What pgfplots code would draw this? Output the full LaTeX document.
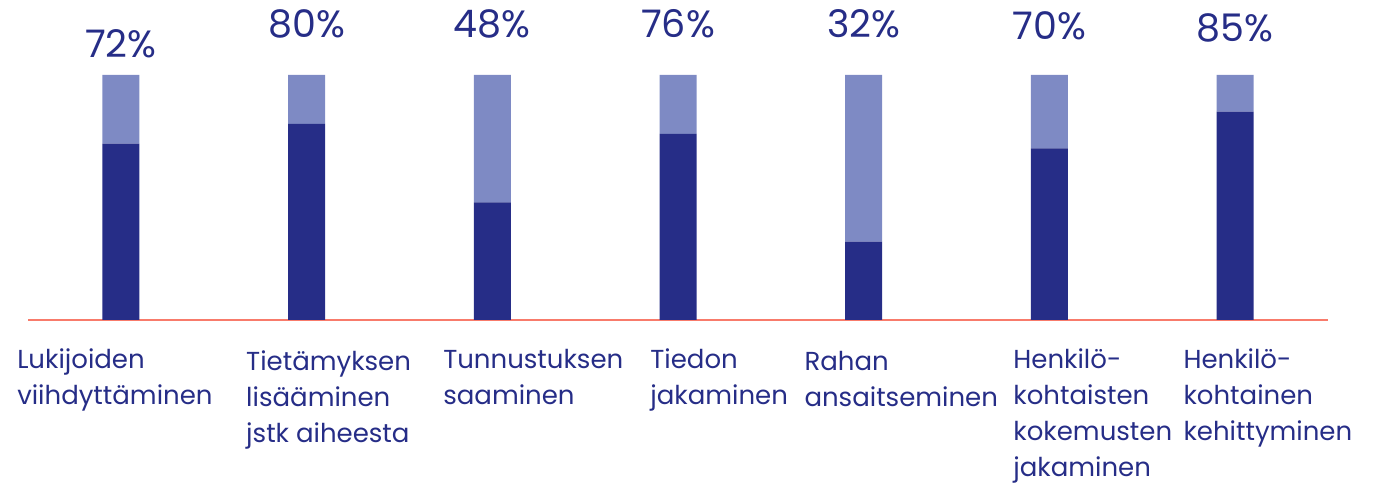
\documentclass[border=0pt]{standalone}
\usepackage{fontspec}
\setmainfont{Poppins}
\usepackage{pgfplots}
\pgfplotsset{compat=1.18}

\definecolor{darkbar}{HTML}{262D87}
\definecolor{lightbar}{HTML}{7E8AC4}
\definecolor{coral}{HTML}{F87B6B}

\newcommand{\catfont}{\fontsize{13}{18}\selectfont}
\newcommand{\pctfont}{\fontsize{19}{22}\selectfont}
\newcommand{\lines}[1]{\begin{tabular}[t]{@{}l@{}}#1\end{tabular}}

\begin{document}
\begin{tikzpicture}
\begin{axis}[
    scale only axis,
    width=650pt, height=122.5pt,
    xmin=-0.5, xmax=6.5, ymin=0, ymax=100,
    ybar stacked, bar width=18.5pt,
    axis x line=bottom, axis y line=none,
    x axis line style={-, draw=coral, line width=0.7pt},
    xtick=\empty, ytick=\empty,
    clip=false,
]
% share (dark) and remainder (light)
\addplot[fill=darkbar, draw=none] coordinates {(0,72) (1,80) (2,48) (3,76) (4,32) (5,70) (6,85)};
\addplot[fill=lightbar, draw=none] coordinates {(0,28) (1,20) (2,52) (3,24) (4,68) (5,30) (6,15)};

% percentages
\tikzset{pct/.style={anchor=base, inner sep=0pt, text=darkbar, font=\pctfont}}
\node[pct] at (axis cs:0,107.3) {72\%};
\node[pct] at (axis cs:1,115.5) {80\%};
\node[pct] at (axis cs:2,115.5) {48\%};
\node[pct] at (axis cs:3,115.5) {76\%};
\node[pct] at (axis cs:4,115.5) {32\%};
\node[pct] at (axis cs:5,114.3) {70\%};
\node[pct] at (axis cs:6,113.5) {85\%};

% category labels
\tikzset{cat/.style={anchor=base west, inner sep=0pt, text=darkbar, font=\catfont}}
\node[cat] at (axis cs:-0.560,-19.6) {\lines{Lukijoiden\\viihdyttäminen}};
\node[cat] at (axis cs:0.673,-20.8) {\lines{Tietämyksen\\lisääminen\\jstk aiheesta}};
\node[cat] at (axis cs:1.734,-19.6) {\lines{Tunnustuksen\\saaminen}};
\node[cat] at (axis cs:2.849,-19.6) {\lines{Tiedon\\jakaminen}};
\node[cat] at (axis cs:3.679,-20.8) {\lines{Rahan\\ansaitseminen}};
\node[cat] at (axis cs:4.804,-19.6) {\lines{Henkilö-\\kohtaisten\\kokemusten\\jakaminen}};
\node[cat] at (axis cs:5.720,-19.6) {\lines{Henkilö-\\kohtainen\\kehittyminen}};
\end{axis}
\pgfresetboundingbox
\path ([xshift=-14pt,yshift=-82.5pt]current axis.south west) rectangle ([xshift=22.5pt,yshift=37.5pt]current axis.north east);
\end{tikzpicture}
\end{document}
